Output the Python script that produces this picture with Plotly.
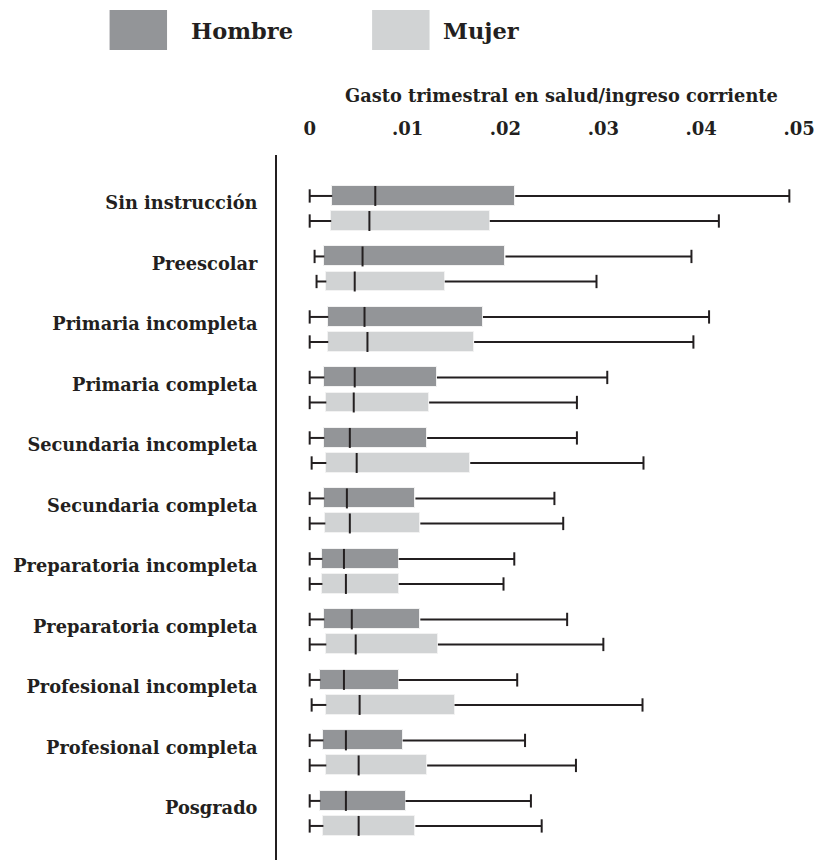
import plotly.graph_objects as go

# Education levels (top to bottom)
categories = [
    "Sin instrucción", "Preescolar", "Primaria incompleta", "Primaria completa",
    "Secundaria incompleta", "Secundaria completa", "Preparatoria incompleta",
    "Preparatoria completa", "Profesional incompleta", "Profesional completa",
    "Posgrado",
]

# Quarterly health spending / current income: box-plot statistics
hombre_low = [0.0000, 0.0005, 0.0000, 0.0000, 0.0000, 0.0000, 0.0000, 0.0000, 0.0000, 0.0000, 0.0000]
hombre_q1 = [0.0023, 0.0015, 0.0019, 0.0015, 0.0015, 0.0015, 0.0013, 0.0015, 0.0011, 0.0014, 0.0011]
hombre_med = [0.0067, 0.0054, 0.0056, 0.0046, 0.0041, 0.0038, 0.0035, 0.0043, 0.0035, 0.0037, 0.0037]
hombre_q3 = [0.0210, 0.0200, 0.0177, 0.0130, 0.0120, 0.0108, 0.0091, 0.0113, 0.0091, 0.0095, 0.0098]
hombre_high = [0.0490, 0.0390, 0.0408, 0.0304, 0.0273, 0.0250, 0.0209, 0.0263, 0.0212, 0.0220, 0.0226]

mujer_low = [0.0000, 0.0007, 0.0000, 0.0000, 0.0002, 0.0000, 0.0000, 0.0000, 0.0002, 0.0000, 0.0000]
mujer_q1 = [0.0022, 0.0017, 0.0019, 0.0017, 0.0017, 0.0016, 0.0013, 0.0017, 0.0017, 0.0017, 0.0014]
mujer_med = [0.0061, 0.0046, 0.0059, 0.0045, 0.0048, 0.0041, 0.0037, 0.0047, 0.0051, 0.0050, 0.0050]
mujer_q3 = [0.0184, 0.0138, 0.0168, 0.0122, 0.0164, 0.0113, 0.0091, 0.0131, 0.0148, 0.0120, 0.0108]
mujer_high = [0.0418, 0.0293, 0.0392, 0.0273, 0.0341, 0.0259, 0.0198, 0.0300, 0.0340, 0.0272, 0.0237]

tick_vals = [0, 0.01, 0.02, 0.03, 0.04, 0.05]
tick_text = ["0", ".01", ".02", ".03", ".04", ".05"]
axis_title = "Gasto trimestral en salud/ingreso corriente"

series = [
    ("Hombre", "#939598", -0.207, hombre_low, hombre_q1, hombre_med, hombre_q3, hombre_high),
    ("Mujer", "#d1d3d4", 0.207, mujer_low, mujer_q1, mujer_med, mujer_q3, mujer_high),
]

FONT = "DejaVu Serif"
INK = "#231f20"
BOX_H = 0.33
CAP_H = 0.22

# plot-area geometry in pixels, used to place paper-referenced decorations
L, R, T, B, W, H = 277, 10, 155, 5, 820, 865
PW, PH = W - L - R, H - T - B


def px_x(x):
    return (x - L) / PW


def px_y(y):
    return (H - B - y) / PH


fig = go.Figure()

for name, color, offset, low, q1, med, q3, high in series:
    ys = [i + offset for i in range(len(categories))]
    # box body
    fig.add_trace(go.Bar(
        orientation="h", y=ys, base=q1,
        x=[b - a for a, b in zip(q1, q3)],
        width=BOX_H, name=name, showlegend=False,
        marker=dict(color=color, line=dict(color="#f2f2f2", width=1)),
    ))
    # whiskers, caps and median
    wx, wy = [], []
    for y, lo, a, m, b, hi in zip(ys, low, q1, med, q3, high):
        wx += [lo, a, None, b, hi, None]
        wy += [y, y, None, y, y, None]
        wx += [lo, lo, None, hi, hi, None]
        wy += [y - CAP_H / 2, y + CAP_H / 2, None, y - CAP_H / 2, y + CAP_H / 2, None]
        wx += [m, m, None]
        wy += [y - BOX_H / 2, y + BOX_H / 2, None]
    fig.add_trace(go.Scatter(
        x=wx, y=wy, mode="lines", showlegend=False, hoverinfo="skip",
        line=dict(color=INK, width=2),
    ))

# legend swatches at the top
legend_items = [("Hombre", "#939598", 108, 188), ("Mujer", "#d1d3d4", 373, 443)]
for label, color, x0, tx in legend_items:
    fig.add_shape(type="rect", xref="paper", yref="paper",
                  x0=px_x(x0), x1=px_x(x0 + 58), y0=px_y(50), y1=px_y(10),
                  fillcolor=color, line=dict(width=0), layer="above")
    fig.add_annotation(text=label, xref="paper", yref="paper",
                       x=px_x(tx), y=px_y(31),
                       xanchor="left", yanchor="middle", showarrow=False,
                       font=dict(family=FONT, size=22.5, color=INK, weight="bold"))

# x-axis title above the tick labels
fig.add_annotation(text=axis_title, xref="paper", yref="paper",
                   x=px_x(564), y=px_y(95), xanchor="center", yanchor="middle",
                   showarrow=False,
                   font=dict(family=FONT, size=17.8, color=INK, weight="bold"))

fig.update_layout(
    width=W, height=H,
    margin=dict(l=L, r=R, t=T, b=B),
    paper_bgcolor="white", plot_bgcolor="white",
    barmode="overlay", bargap=0,
    font=dict(family=FONT, color=INK, weight="bold"),
    showlegend=False,
    xaxis=dict(
        side="top", range=[-0.00334, 0.0506],
        tickvals=tick_vals, ticktext=tick_text, ticks="",
        showgrid=False, zeroline=False, showline=False,
        tickfont=dict(family=FONT, size=18, color=INK, weight="bold"),
        ticklabelstandoff=15,
    ),
    yaxis=dict(
        range=[10.77, -0.884],
        tickvals=[i - 0.09 for i in range(len(categories))],
        ticktext=categories, ticks="",
        showgrid=False, zeroline=False,
        showline=True, linecolor=INK, linewidth=2,
        tickfont=dict(family=FONT, size=17.8, color=INK, weight="bold"),
        ticklabelstandoff=14,
    ),
)

fig.write_html("out.html")
